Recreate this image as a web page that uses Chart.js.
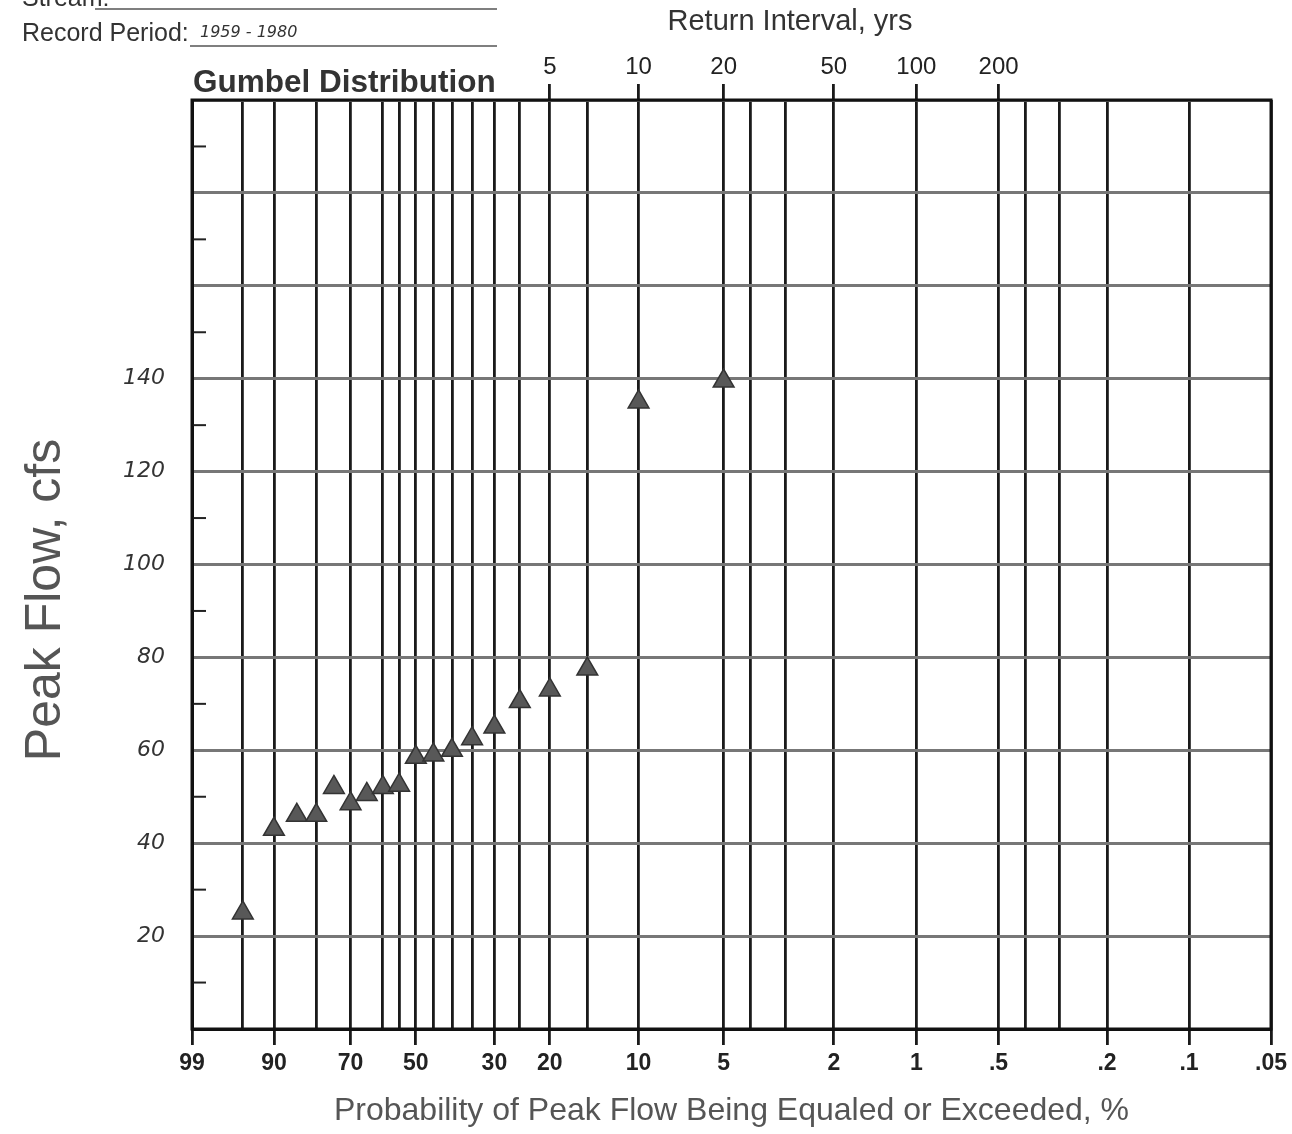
<!DOCTYPE html>
<html>
<head>
<meta charset="utf-8">
<title>Gumbel Distribution - Peak Flow</title>
<script src="https://cdn.jsdelivr.net/npm/chart.js@4.4.0/dist/chart.umd.min.js"></script>
<style>
  html, body { margin: 0; padding: 0; background: #fff; }
  #wrap { width: 1292px; height: 1134px; }
</style>
</head>
<body>
<div id="wrap"><canvas id="myChart"></canvas></div>
<script>
// plotted floods: exceedance probability (%) and peak flow (cfs)
const exceedProb = [95, 90, 85, 80, 75, 70, 65, 60, 55, 50, 45, 40, 35, 30, 25, 20, 15, 10, 5];
const peakFlow = [25, 43, 46, 46, 52, 48.5, 50.5, 52, 52.5, 58.5, 59, 60, 62.5, 65, 70.5, 73, 77.5, 135, 139.5];

// vertical rulings of the paper (exceedance %)
const gridProbs = [99, 95, 90, 80, 70, 60, 55, 50, 45, 40, 35, 30, 25, 20, 15, 10, 5, 4, 3, 2, 1, 0.5, 0.4, 0.3, 0.2, 0.1, 0.05];
const probTickValues = [99, 90, 70, 50, 30, 20, 10, 5, 2, 1, 0.5, 0.2, 0.1, 0.05];
const probTickLabels = ['99', '90', '70', '50', '30', '20', '10', '5', '2', '1', '.5', '.2', '.1', '.05'];

// return interval scale on top (years)
const returnYears = [5, 10, 20, 50, 100, 200];

// peak flow labels written on the paper
const flowLabels = [20, 40, 60, 80, 100, 120, 140];

// Gumbel reduced variate for an exceedance probability in %
function gumbel(p) {
    return -Math.log(-Math.log(1 - p / 100));
}

const xMin = gumbel(99);
const xMax = gumbel(0.05);

// frame, short marks every 10 cfs and the loose texts around the paper
const paperPlugin = {
    id: 'paper',
    beforeDatasetsDraw(chart) {
        const ctx = chart.ctx;
        const a = chart.chartArea;
        const y = chart.scales.y;
        ctx.save();
        ctx.strokeStyle = '#222';
        ctx.lineWidth = 2;
        for (let v = 10; v < 200; v += 20) {
            const py = y.getPixelForValue(v);
            ctx.beginPath();
            ctx.moveTo(a.left, py);
            ctx.lineTo(a.left + 14, py);
            ctx.stroke();
        }
        ctx.lineWidth = 3;
        ctx.strokeStyle = '#111';
        ctx.strokeRect(a.left, a.top, a.right - a.left, a.bottom - a.top);
        ctx.restore();
    },
    afterDraw(chart) {
        const ctx = chart.ctx;
        ctx.save();
        ctx.fillStyle = '#333';
        ctx.textBaseline = 'alphabetic';
        ctx.textAlign = 'left';

        ctx.font = '25px "Liberation Sans"';
        ctx.fillText('Stream:', 22, 6);
        ctx.fillText('Record Period:', 22, 41);

        ctx.font = 'italic 16px "DejaVu Sans"';
        ctx.fillText('1959 - 1980', 200, 37);

        ctx.strokeStyle = '#555';
        ctx.lineWidth = 1.5;
        ctx.beginPath();
        ctx.moveTo(95, 9); ctx.lineTo(497, 9);
        ctx.moveTo(190, 46); ctx.lineTo(497, 46);
        ctx.stroke();

        ctx.font = 'bold 31.5px "Liberation Sans"';
        ctx.fillText('Gumbel Distribution', 193, 92);

        ctx.font = '29px "Liberation Sans"';
        ctx.textAlign = 'center';
        ctx.textBaseline = 'middle';
        ctx.fillText('Return Interval, yrs', 790, 22);

        ctx.fillStyle = '#555';
        ctx.font = '50px "Liberation Sans"';
        ctx.translate(46, 600);
        ctx.rotate(-Math.PI / 2);
        ctx.fillText('Peak Flow, cfs', 0, 0);
        ctx.restore();
    }
};

const ctx = document.getElementById('myChart').getContext('2d');
const chart = new Chart(ctx, {
    type: 'scatter',
    data: {
        datasets: [{
            label: 'Peak flow',
            data: exceedProb.map((p, i) => ({ x: gumbel(p), y: peakFlow[i] })),
            pointStyle: 'triangle',
            pointRadius: 12,
            backgroundColor: '#585858',
            borderColor: '#333',
            borderWidth: 1.5
        }]
    },
    options: {
        responsive: true,
        maintainAspectRatio: false,
        animation: false,
        layout: { padding: { right: 19 } },
        plugins: {
            legend: { display: false },
            tooltip: { enabled: false }
        },
        scales: {
            x: {
                type: 'linear',
                position: 'bottom',
                min: xMin,
                max: xMax,
                afterBuildTicks: scale => {
                    scale.ticks = gridProbs.map(p => ({ value: gumbel(p) }));
                },
                afterFit: scale => { scale.height = 105; },
                ticks: {
                    autoSkip: false,
                    maxRotation: 0,
                    padding: 5,
                    color: '#222',
                    font: { family: 'Liberation Sans', size: 23, weight: 'bold' },
                    callback: (value, index) => {
                        const k = probTickValues.indexOf(gridProbs[index]);
                        return k >= 0 ? probTickLabels[k] : '';
                    }
                },
                grid: {
                    color: '#1a1a1a',
                    lineWidth: 2.8,
                    tickLength: 16,
                    tickColor: c => probTickValues.includes(gridProbs[c.index]) ? '#1a1a1a' : 'rgba(0,0,0,0)'
                },
                border: { color: '#111', width: 3 },
                title: {
                    display: true,
                    text: 'Probability of Peak Flow Being Equaled or Exceeded, %',
                    color: '#555',
                    font: { family: 'Liberation Sans', size: 32 },
                    padding: { top: 4, bottom: 4 }
                }
            },
            x2: {
                type: 'linear',
                position: 'top',
                min: xMin,
                max: xMax,
                afterBuildTicks: scale => {
                    scale.ticks = returnYears.map(t => ({ value: gumbel(100 / t) }));
                },
                afterFit: scale => { scale.height = 100; },
                ticks: {
                    autoSkip: false,
                    maxRotation: 0,
                    padding: 2,
                    color: '#222',
                    font: { family: 'Liberation Sans', size: 24 },
                    callback: (value, index) => String(returnYears[index])
                },
                grid: {
                    drawOnChartArea: false,
                    color: '#1a1a1a',
                    lineWidth: 2.8,
                    tickLength: 16
                },
                border: { display: false }
            },
            y: {
                min: 0,
                max: 200,
                afterFit: scale => { scale.width = 192; },
                ticks: {
                    stepSize: 20,
                    padding: 27,
                    color: '#333',
                    font: { family: 'DejaVu Sans', size: 22, style: 'italic' },
                    callback: value => flowLabels.includes(value) ? String(value) : ''
                },
                grid: {
                    color: '#777',
                    lineWidth: 3,
                    drawTicks: false
                },
                border: { color: '#111', width: 3 }
            }
        }
    },
    plugins: [paperPlugin]
});
</script>
</body>
</html>
